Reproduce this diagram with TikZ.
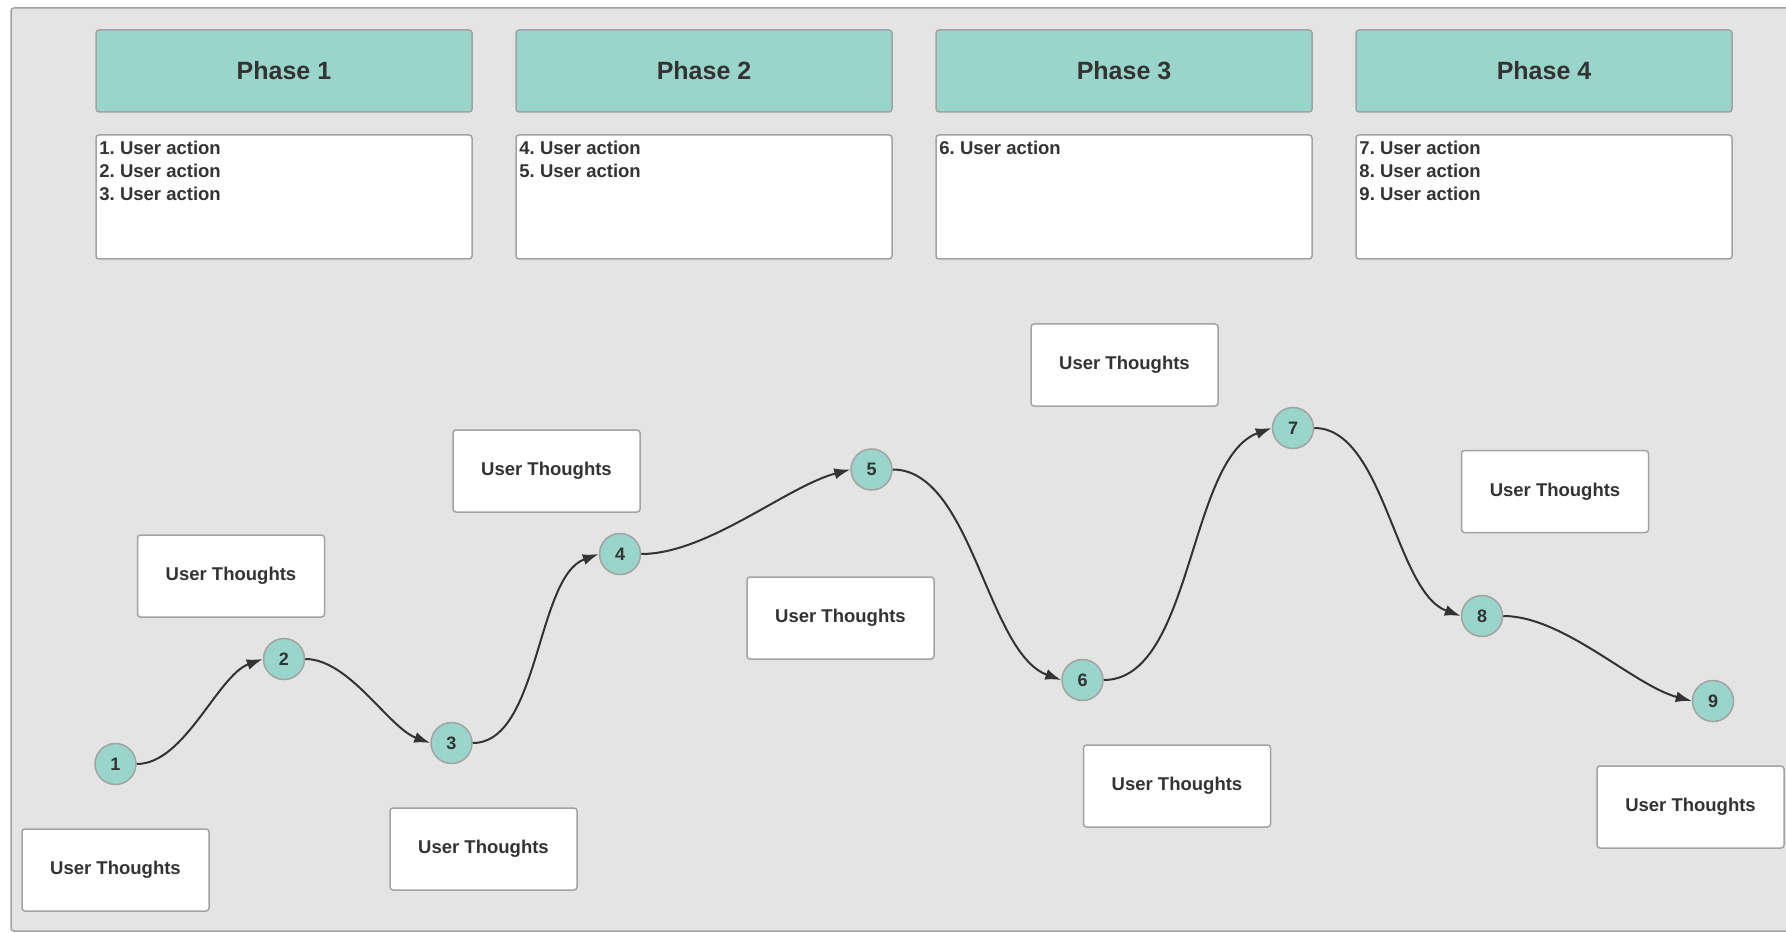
\documentclass[tikz,border=0pt]{standalone}
\usepackage{fontspec}
\setmainfont{Liberation Sans}
\usetikzlibrary{arrows.meta}
\frenchspacing

\definecolor{bgGrey}{HTML}{E4E4E4}
\definecolor{frameGrey}{HTML}{A3A3A3}
\definecolor{phaseTeal}{HTML}{99D5CA}
\definecolor{textDark}{HTML}{333333}

\tikzset{
  phaseBox/.style={draw=frameGrey, line width=1.5pt, fill=phaseTeal, rounded corners=3pt,
    minimum width=376pt, minimum height=82pt, text=textDark,
    font=\fontsize{25}{30}\selectfont\bfseries},
  actionBox/.style={draw=frameGrey, line width=1.5pt, fill=white, rounded corners=3pt,
    minimum width=376pt, minimum height=124pt},
  actionText/.style={anchor=north west, align=left, inner xsep=4pt, inner ysep=7pt,
    text=textDark, font=\fontsize{18.5}{23}\selectfont\bfseries},
  thoughtBox/.style={draw=frameGrey, line width=1.5pt, fill=white, rounded corners=3pt,
    minimum width=187pt, minimum height=82pt, text=textDark,
    font=\fontsize{18.5}{22}\selectfont\bfseries},
  stepDot/.style={circle, draw=frameGrey, line width=1.5pt, fill=phaseTeal, inner sep=0pt,
    minimum size=41pt, text=textDark, font=\fontsize{18}{20}\selectfont\bfseries},
  flowLine/.style={draw=textDark, line width=2pt, looseness=0.75,
    -{Latex[length=16pt,width=11pt]}}
}

\begin{document}
\begin{tikzpicture}[x=1pt,y=-1pt]
\useasboundingbox (0,0) rectangle (1786,933);
\clip (0,0) rectangle (1786,933);
\fill[bgGrey, draw=frameGrey, line width=1.5pt, rounded corners=3pt] (11,8) rectangle (1810,931);

% phases
\node[phaseBox] (p1) at (284,71) {Phase 1};
\node[phaseBox] (p2) at (704,71) {Phase 2};
\node[phaseBox] (p3) at (1124,71) {Phase 3};
\node[phaseBox] (p4) at (1544,71) {Phase 4};

\node[actionBox] (a1) at (284,197) {};
\node[actionBox] (a2) at (704,197) {};
\node[actionBox] (a3) at (1124,197) {};
\node[actionBox] (a4) at (1544,197) {};
\node[actionText] (a1txt) at (a1.north west) {1. User action\\2. User action\\3. User action};
\node[actionText] (a2txt) at (a2.north west) {4. User action\\5. User action};
\node[actionText] (a3txt) at (a3.north west) {6. User action};
\node[actionText] (a4txt) at (a4.north west) {7. User action\\8. User action\\9. User action};

% thoughts
\node[thoughtBox] (t1) at (115.5,870) {User Thoughts};
\node[thoughtBox] (t2) at (231,576) {User Thoughts};
\node[thoughtBox] (t3) at (546.5,471) {User Thoughts};
\node[thoughtBox] (t4) at (483.5,849) {User Thoughts};
\node[thoughtBox] (t5) at (840.5,618) {User Thoughts};
\node[thoughtBox] (t6) at (1124.5,365) {User Thoughts};
\node[thoughtBox] (t7) at (1177,786) {User Thoughts};
\node[thoughtBox] (t8) at (1555,491.5) {User Thoughts};
\node[thoughtBox] (t9) at (1690.5,807) {User Thoughts};

% steps
\node[stepDot] (s1) at (115.5,764) {1};
\node[stepDot] (s2) at (284,659) {2};
\node[stepDot] (s3) at (451.5,743) {3};
\node[stepDot] (s4) at (620,554) {4};
\node[stepDot] (s5) at (871.5,469.5) {5};
\node[stepDot] (s6) at (1082.5,680) {6};
\node[stepDot] (s7) at (1293,428) {7};
\node[stepDot] (s8) at (1482,616) {8};
\node[stepDot] (s9) at (1713,701) {9};

\draw[flowLine] (s1.east) to[out=0,in=200] (s2.west);
\draw[flowLine] (s2.east) to[out=0,in=160] (s3.west);
\draw[flowLine] (s3.east) to[out=0,in=200] (s4.west);
\draw[flowLine] (s4.east) to[out=0,in=195] (s5.west);
\draw[flowLine] (s5.east) to[out=0,in=160] (s6.west);
\draw[flowLine] (s6.east) to[out=0,in=200] (s7.west);
\draw[flowLine] (s7.east) to[out=0,in=160] (s8.west);
\draw[flowLine] (s8.east) to[out=0,in=165] (s9.west);
\end{tikzpicture}
\end{document}
